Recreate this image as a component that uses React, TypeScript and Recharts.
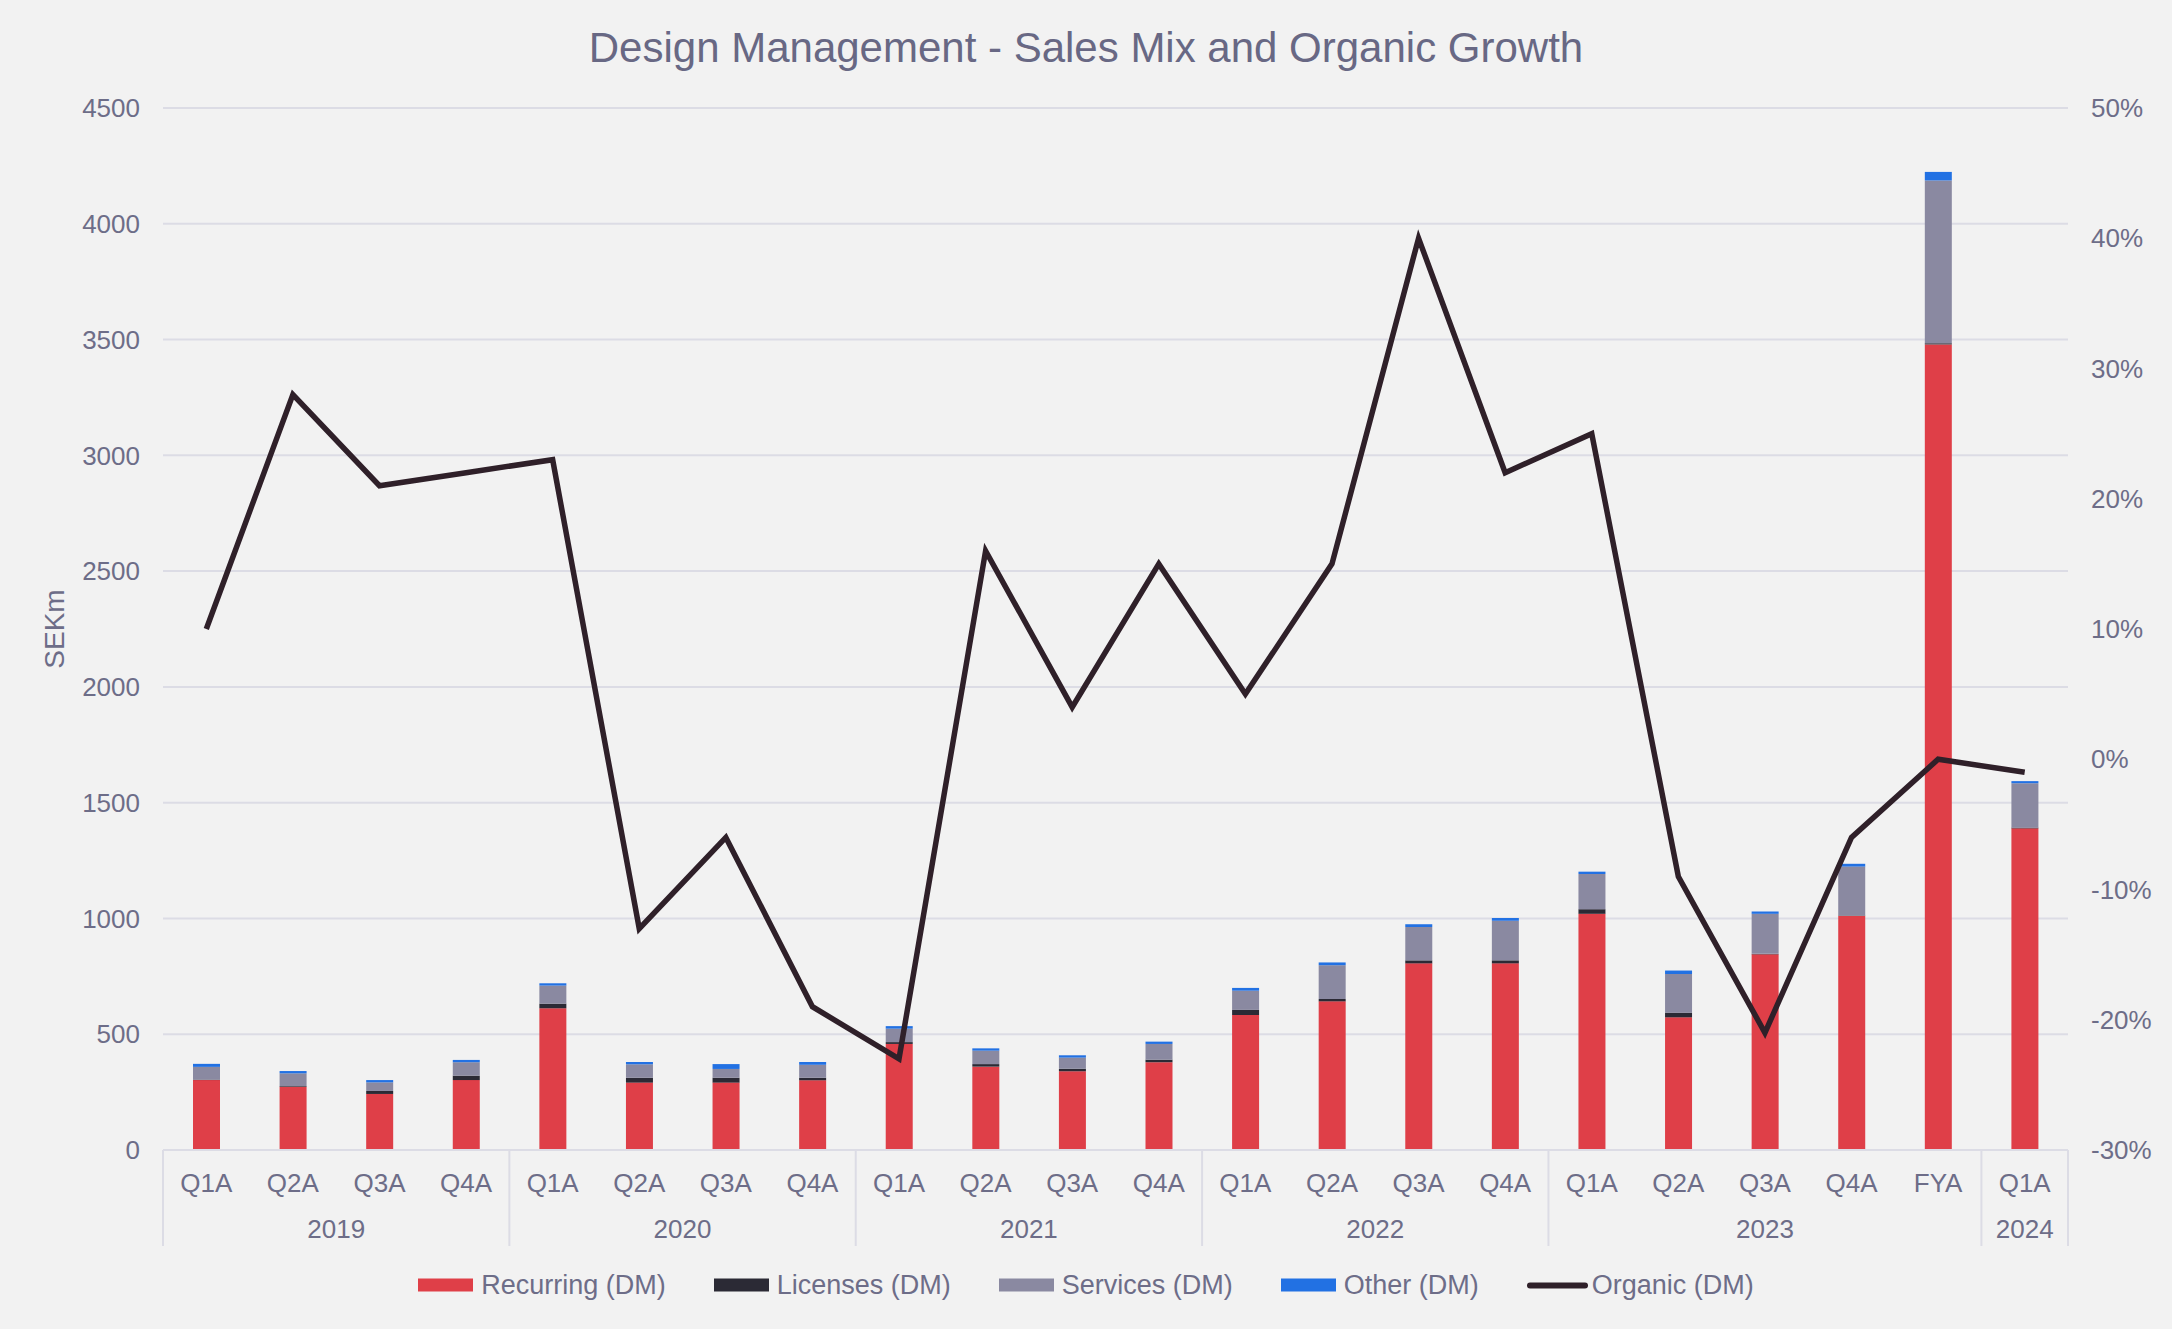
import React from 'react'
import { ComposedChart, Bar, Line, XAxis, YAxis, CartesianGrid } from 'recharts'

const quarters = ['Q1A', 'Q2A', 'Q3A', 'Q4A', 'Q1A', 'Q2A', 'Q3A', 'Q4A', 'Q1A', 'Q2A', 'Q3A', 'Q4A', 'Q1A', 'Q2A', 'Q3A', 'Q4A', 'Q1A', 'Q2A', 'Q3A', 'Q4A', 'FYA', 'Q1A']
const years = ['2019', '2019', '2019', '2019', '2020', '2020', '2020', '2020', '2021', '2021', '2021', '2021', '2022', '2022', '2022', '2022', '2023', '2023', '2023', '2023', '2023', '2024']

// SEKm
const recurring = [302, 273, 242, 302, 612, 291, 291, 301, 458, 360, 340, 379, 583, 642, 806, 806, 1020, 573, 845, 1011, 3479, 1389]
const licenses = [2, 3, 13, 19, 20, 21, 21, 11, 8, 11, 11, 11, 22, 10, 13, 13, 20, 20, 2, 2, 5, 3]
const services = [55, 55, 37, 58, 78, 58, 38, 56, 58, 58, 48, 68, 83, 146, 144, 171, 152, 167, 173, 211, 703, 192]
const other = [13, 10, 10, 10, 10, 10, 21, 12, 11, 10, 10, 10, 12, 12, 12, 12, 10, 15, 10, 12, 37, 9]
// organic growth, %
const organic = [10, 28, 21, 22, 23, -13, -6, -19, -23, 16, 4, 15, 5, 15, 40, 22, 25, -9, -21, -6, 0, -1]

const leftTicks = [0, 500, 1000, 1500, 2000, 2500, 3000, 3500, 4000, 4500]
const rightTicks = [-30, -20, -10, 0, 10, 20, 30, 40, 50]

const W = 2172
const H = 1329
const LEFT_W = 163
const RIGHT_W = 104
const TOP = 108
const XAXIS_H = 179
const PLOT_BOTTOM = H - XAXIS_H
const BAND = (W - LEFT_W - RIGHT_W) / quarters.length

const FONT = '"Liberation Sans", Arial, sans-serif'
const TEXT = '#6d6d88'
const GRID = '#dcdce5'

const COLORS = {
  recurring: '#df3f48',
  licenses: '#2b2a35',
  services: '#8a89a1',
  other: '#2271e3',
  organic: '#2f2029',
}

const data = quarters.map((q, i) => ({
  key: `${years[i]}-${i}`,
  quarter: q,
  year: years[i],
  recurring: recurring[i],
  licenses: licenses[i],
  services: services[i],
  other: other[i],
  organic: organic[i],
}))

function QuarterTick(props: any) {
  const { x, index } = props
  const year = years[index]
  const first = index === 0 || years[index - 1] !== year
  const last = index === years.length - 1
  let size = 0
  for (let j = index; j < years.length && years[j] === year; j++) size++
  return (
    <g>
      <text x={x} y={PLOT_BOTTOM + 33} textAnchor="middle" dominantBaseline="central" fill={TEXT} fontSize={26} fontFamily={FONT}>
        {quarters[index]}
      </text>
      {first && (
        <>
          <line x1={x - BAND / 2} x2={x - BAND / 2} y1={PLOT_BOTTOM} y2={PLOT_BOTTOM + 96} stroke={GRID} strokeWidth={2} />
          <text x={x + ((size - 1) * BAND) / 2} y={PLOT_BOTTOM + 79} textAnchor="middle" dominantBaseline="central" fill={TEXT} fontSize={26} fontFamily={FONT}>
            {year}
          </text>
        </>
      )}
      {last && <line x1={x + BAND / 2} x2={x + BAND / 2} y1={PLOT_BOTTOM} y2={PLOT_BOTTOM + 96} stroke={GRID} strokeWidth={2} />}
    </g>
  )
}

const legendItems = [
  { name: 'Recurring (DM)', color: COLORS.recurring, line: false },
  { name: 'Licenses (DM)', color: COLORS.licenses, line: false },
  { name: 'Services (DM)', color: COLORS.services, line: false },
  { name: 'Other (DM)', color: COLORS.other, line: false },
  { name: 'Organic (DM)', color: COLORS.organic, line: true },
]

export default function App() {
  return (
    <div style={{ position: 'absolute', left: 0, top: 0, width: W, height: H, background: '#f2f2f2', fontFamily: FONT }}>
      <div style={{ position: 'absolute', top: 48, left: 0, width: W, textAlign: 'center', transform: 'translateY(-50%)', color: '#686884', fontSize: 42 }}>
        Design Management - Sales Mix and Organic Growth
      </div>
      <div style={{ position: 'absolute', left: 55, top: 629, transform: 'translate(-50%, -50%) rotate(-90deg)', color: TEXT, fontSize: 28 }}>
        SEKm
      </div>
      <ComposedChart width={W} height={H} data={data} margin={{ top: TOP, right: 0, bottom: 0, left: 0 }} barSize={27}>
        <CartesianGrid yAxisId="left" vertical={false} stroke={GRID} strokeWidth={2} />
        <XAxis
          dataKey="key"
          interval={0}
          height={XAXIS_H}
          tickLine={false}
          axisLine={{ stroke: GRID, strokeWidth: 2 }}
          tick={<QuarterTick />}
        />
        <YAxis
          yAxisId="left"
          width={LEFT_W}
          domain={[0, 4500]}
          ticks={leftTicks}
          axisLine={false}
          tickLine={false}
          tickSize={0}
          tickMargin={23}
          tick={{ fill: TEXT, fontSize: 26, fontFamily: FONT }}
        />
        <YAxis
          yAxisId="right"
          orientation="right"
          width={RIGHT_W}
          domain={[-30, 50]}
          ticks={rightTicks}
          axisLine={false}
          tickLine={false}
          tickSize={0}
          tickMargin={23}
          tickFormatter={(v) => `${v}%`}
          tick={{ fill: TEXT, fontSize: 26, fontFamily: FONT }}
        />
        <Bar yAxisId="left" dataKey="recurring" stackId="a" fill={COLORS.recurring} isAnimationActive={false} />
        <Bar yAxisId="left" dataKey="licenses" stackId="a" fill={COLORS.licenses} isAnimationActive={false} />
        <Bar yAxisId="left" dataKey="services" stackId="a" fill={COLORS.services} isAnimationActive={false} />
        <Bar yAxisId="left" dataKey="other" stackId="a" fill={COLORS.other} isAnimationActive={false} />
        <Line yAxisId="right" type="linear" dataKey="organic" stroke={COLORS.organic} strokeWidth={5.5} dot={false} isAnimationActive={false} />
      </ComposedChart>
      <div style={{ position: 'absolute', top: 1285, left: 0, width: W, display: 'flex', justifyContent: 'center', alignItems: 'center', gap: 48, transform: 'translateY(-50%)', color: TEXT, fontSize: 27 }}>
        {legendItems.map((it) => (
          <div key={it.name} style={{ display: 'flex', alignItems: 'center' }}>
            {it.line ? (
              <div style={{ width: 61, height: 6, borderRadius: 3, background: it.color, marginRight: 4 }} />
            ) : (
              <div style={{ width: 55, height: 13, background: it.color, marginRight: 8 }} />
            )}
            <span>{it.name}</span>
          </div>
        ))}
      </div>
    </div>
  )
}
